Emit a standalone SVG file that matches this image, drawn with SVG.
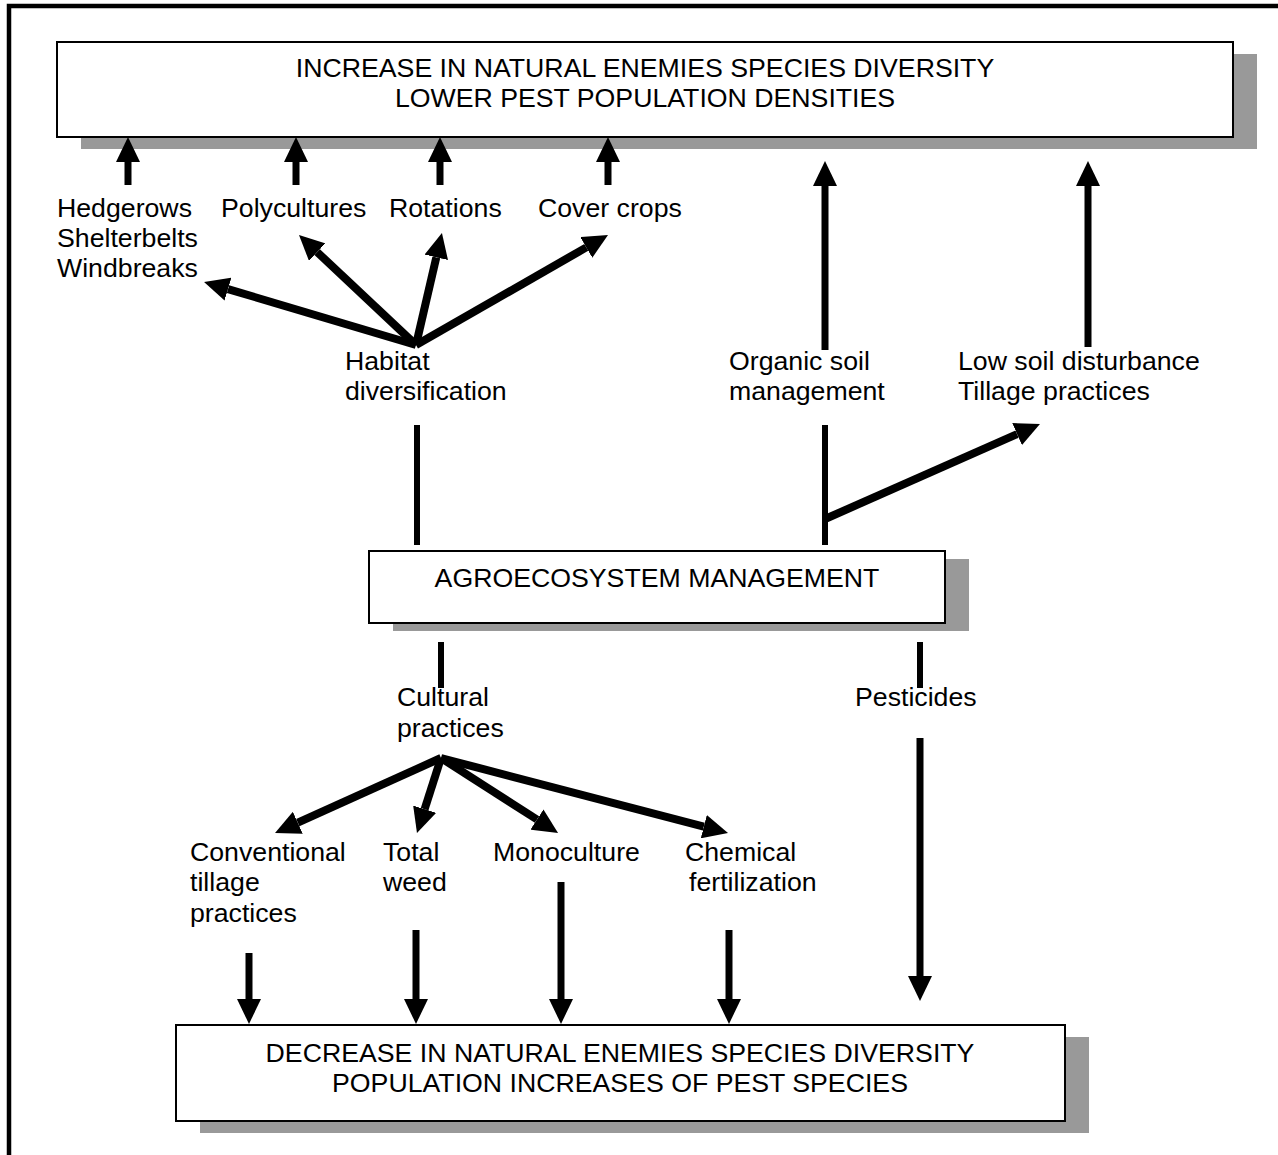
<svg xmlns="http://www.w3.org/2000/svg" width="1278" height="1155" viewBox="0 0 1278 1155">
<defs>
<style>
text{font-family:"Liberation Sans",Arial,sans-serif;font-size:26.7px;fill:#000}
.box{fill:#fff;stroke:#000;stroke-width:2}
.shadow{fill:#999}
.c{text-anchor:middle}
.arr{stroke:#000;stroke-width:7;fill:none;marker-end:url(#ah)}
.arr.d{stroke-width:8}
.ln{stroke:#000;stroke-width:6;fill:none}
</style>
<marker id="ah" markerUnits="userSpaceOnUse" markerWidth="26" markerHeight="24" refX="0" refY="12" orient="auto" viewBox="0 0 26 24">
<path d="M0,0 L25,12 L0,24 Z" fill="#000"/>
</marker>
</defs>
<rect width="1278" height="1155" fill="#fff"/>
<path d="M9,1160 V6 H1285" fill="none" stroke="#000" stroke-width="4.5"/>

<g id="top-box">
<rect class="shadow" x="81" y="54" width="1176" height="95"/>
<rect class="box" x="57" y="42" width="1176" height="95"/>
<text class="c" x="645" y="77">INCREASE IN NATURAL ENEMIES SPECIES DIVERSITY</text>
<text class="c" x="645" y="107">LOWER PEST POPULATION DENSITIES</text>
</g>

<g id="mid-box">
<rect class="shadow" x="393" y="559" width="576" height="72"/>
<rect class="box" x="369" y="551" width="576" height="72"/>
<text class="c" x="657" y="587">AGROECOSYSTEM MANAGEMENT</text>
</g>

<g id="bottom-box">
<rect class="shadow" x="200" y="1037" width="889" height="96"/>
<rect class="box" x="176" y="1025" width="889" height="96"/>
<text class="c" x="620" y="1062">DECREASE IN NATURAL ENEMIES SPECIES DIVERSITY</text>
<text class="c" x="620" y="1092">POPULATION INCREASES OF PEST SPECIES</text>
</g>

<g id="connectors">
<line class="arr" x1="128" y1="185" x2="128" y2="162"/>
<line class="arr" x1="296" y1="185" x2="296" y2="162"/>
<line class="arr" x1="440" y1="185" x2="440" y2="162"/>
<line class="arr" x1="608" y1="185" x2="608" y2="162"/>
<line class="arr" x1="825" y1="350" x2="825" y2="186"/>
<line class="arr" x1="1088" y1="347" x2="1088" y2="186"/>
<line class="arr d" x1="416" y1="345" x2="228" y2="289.1"/>
<line class="arr d" x1="416" y1="345" x2="317.2" y2="252.1"/>
<line class="arr d" x1="416" y1="345" x2="436.3" y2="257.3"/>
<line class="arr d" x1="416" y1="345" x2="586.3" y2="247.4"/>
<line class="ln" x1="417" y1="425" x2="417" y2="545"/>
<line class="ln" x1="825" y1="425" x2="825" y2="545"/>
<line class="arr d" x1="825" y1="519" x2="1017.1" y2="434.1"/>
<line class="ln" x1="441" y1="642" x2="441" y2="688"/>
<line class="ln" x1="920" y1="642" x2="920" y2="688"/>
<line class="arr" x1="920" y1="738" x2="920" y2="976"/>
<line class="arr d" x1="441" y1="758" x2="297.8" y2="822.7"/>
<line class="arr d" x1="441" y1="758" x2="424.6" y2="809.2"/>
<line class="arr d" x1="441" y1="758" x2="537" y2="819.5"/>
<line class="arr d" x1="441" y1="758" x2="703.8" y2="826.7"/>
<line class="arr" x1="249" y1="953" x2="249" y2="999"/>
<line class="arr" x1="416" y1="930" x2="416" y2="999"/>
<line class="arr" x1="561" y1="882" x2="561" y2="999"/>
<line class="arr" x1="729" y1="930" x2="729" y2="999"/>
</g>

<g id="hedgerows">
<text x="57" y="217">Hedgerows</text>
<text x="57" y="247">Shelterbelts</text>
<text x="57" y="277">Windbreaks</text>
</g>
<g id="polycultures"><text x="221" y="217">Polycultures</text></g>
<g id="rotations"><text x="389" y="217">Rotations</text></g>
<g id="cover-crops"><text x="538" y="217">Cover crops</text></g>
<g id="habitat">
<text x="345" y="370">Habitat</text>
<text x="345" y="400">diversification</text>
</g>
<g id="organic">
<text x="729" y="370">Organic soil</text>
<text x="729" y="400">management</text>
</g>
<g id="low-soil">
<text x="958" y="370">Low soil disturbance</text>
<text x="958" y="400">Tillage practices</text>
</g>
<g id="cultural">
<text x="397" y="706">Cultural</text>
<text x="397" y="737">practices</text>
</g>
<g id="pesticides"><text x="855" y="706">Pesticides</text></g>
<g id="conventional">
<text x="190" y="861">Conventional</text>
<text x="190" y="891">tillage</text>
<text x="190" y="922">practices</text>
</g>
<g id="total-weed">
<text x="383" y="861">Total</text>
<text x="383" y="891">weed</text>
</g>
<g id="monoculture"><text x="493" y="861">Monoculture</text></g>
<g id="chemical">
<text x="685" y="861">Chemical</text>
<text x="689" y="891">fertilization</text>
</g>
</svg>
